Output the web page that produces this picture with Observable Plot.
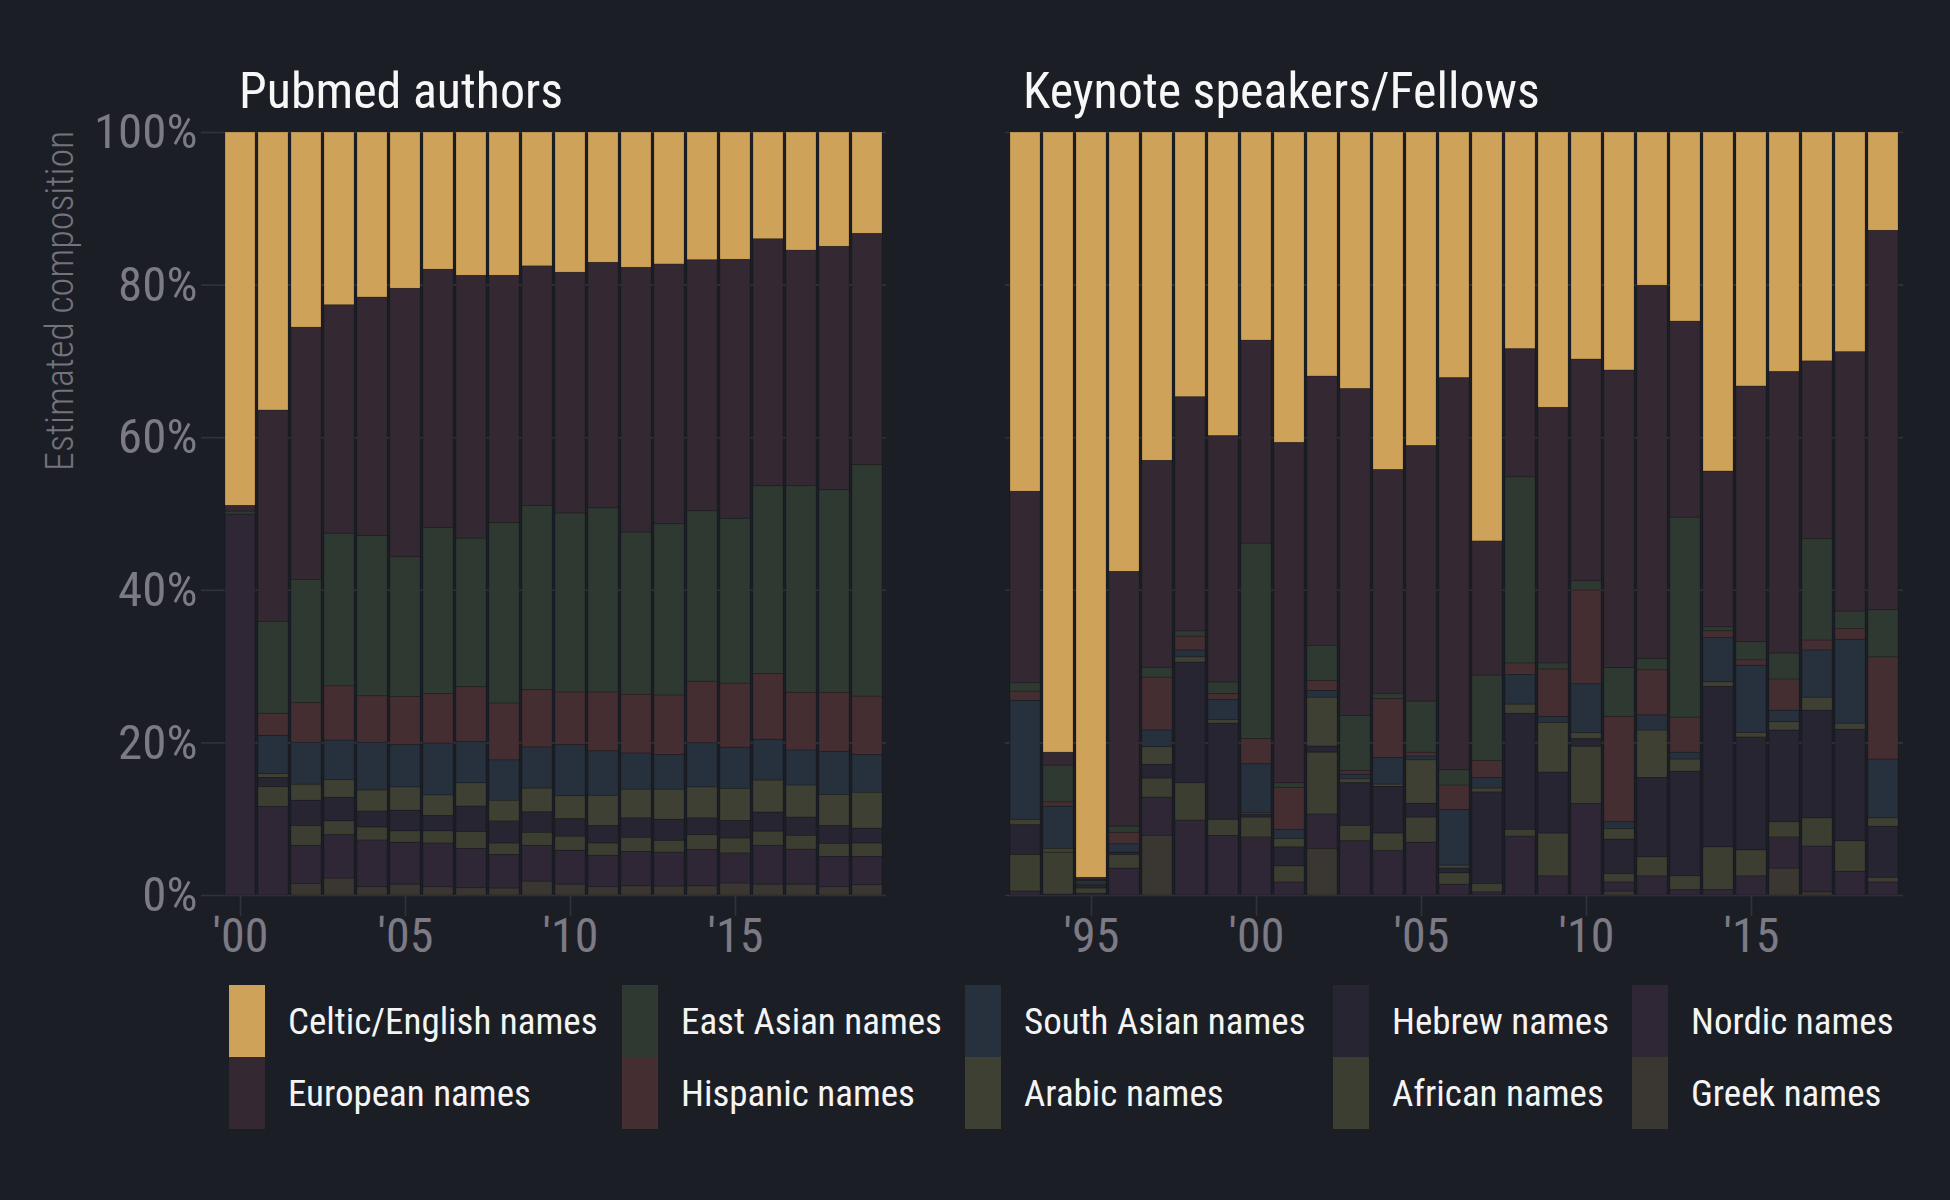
<!DOCTYPE html>
<html><head><meta charset="utf-8">
<script src="https://cdn.jsdelivr.net/npm/d3@7"></script>
<script src="https://cdn.jsdelivr.net/npm/@observablehq/plot@0.6"></script>
<style>
html,body{margin:0;padding:0;background:#1c1e26;}
#root{position:relative;width:1950px;height:1200px;background:#1c1e26;overflow:hidden;font-family:'Roboto Condensed','Roboto',sans-serif;}
.abs{position:absolute;white-space:nowrap;line-height:1;}
.title{color:#f7f7f7;font-size:50px;}
.lg-text{color:#f4f4f4;font-size:37px;}
.ytitle{color:#74727d;font-size:38px;font-weight:300;text-align:right;transform:rotate(-90deg);transform-origin:0 0;}
</style></head><body><div id="root"></div><script>
// ---------- data ----------
const categories = ["Celtic/English names","European names","East Asian names","Hispanic names","South Asian names","Arabic names","Hebrew names","African names","Nordic names","Greek names"];
const colors = ["#cfa259","#342932","#2e3a31","#452e32","#27303d","#3e4033","#272532","#3b3e31","#2f2736","#3a3632"];

const pubmedYears = [2000,2001,2002,2003,2004,2005,2006,2007,2008,2009,2010,2011,2012,2013,2014,2015,2016,2017,2018,2019];
const pubmedTicks = [2000,2005,2010,2015];
const pubmedCeltic    = [48.95,36.45,25.6,22.65,21.65,20.5,18.0,18.8,18.8,17.55,18.4,17.1,17.75,17.3,16.75,16.7,14.0,15.5,15.0,13.3];
const pubmedEuropean  = [0.75,27.7,33.05,29.95,31.25,35.2,33.85,34.45,32.4,31.4,31.55,32.15,34.7,34.05,32.9,33.95,32.35,30.85,31.9,30.3];
const pubmedEastAsian = [0.4,12.05,16.15,20.0,21.0,18.3,21.75,19.45,23.65,24.15,23.45,24.15,21.25,22.45,22.35,21.6,24.65,27.1,26.55,30.35];
const pubmedHispanic  = [0,2.9,5.2,7.1,6.1,6.3,6.5,7.2,7.45,7.5,6.9,7.7,7.7,7.8,8.05,8.4,8.6,7.55,7.75,7.65];
const pubmedSouthAsian= [0,5.0,5.5,5.2,6.25,5.55,6.8,5.4,5.3,5.4,6.7,5.85,4.75,4.55,5.8,5.4,5.35,4.6,5.65,4.95];
const pubmedArabic    = [0,0.5,2.1,2.3,2.75,3.05,2.7,3.05,2.7,3.1,3.0,3.95,3.75,3.95,4.05,4.2,4.2,4.2,4.05,4.7];
const pubmedHebrew    = [0,1.2,3.3,3.1,2.1,2.7,2.0,3.35,2.9,2.7,2.3,2.3,2.55,2.75,2.2,2.3,2.5,2.4,2.35,1.95];
const pubmedAfrican   = [0,2.6,2.6,1.8,1.7,1.5,1.6,2.2,1.5,1.7,1.85,1.6,1.85,1.55,1.95,1.95,1.85,1.8,1.7,1.75];
const pubmedNordic    = [49.9,11.6,5.0,5.7,6.15,5.5,5.75,5.15,4.4,4.7,4.45,4.15,4.5,4.45,4.75,3.95,5.1,4.6,4.0,3.7];
const pubmedGreek     = [0,0,1.5,2.2,1.05,1.4,1.05,0.95,0.9,1.8,1.4,1.05,1.2,1.15,1.2,1.55,1.4,1.4,1.05,1.35];

const keynoteYears = [1993,1994,1995,1996,1997,1998,1999,2000,2001,2002,2003,2004,2005,2006,2007,2008,2009,2010,2011,2012,2013,2014,2015,2016,2017,2018,2019];
const keynoteTicks = [1995,2000,2005,2010,2015];
const keynoteCeltic    = [47.1,81.3,97.7,57.6,43.0,34.7,39.8,27.3,40.7,32.0,33.6,44.2,41.1,32.2,53.6,28.4,36.1,29.8,31.2,20.1,24.8,44.4,33.3,31.4,30.0,28.8,12.9];
const keynoteEuropean  = [25.1,1.7,0.3,33.4,27.1,30.7,32.3,26.6,44.6,35.3,42.8,29.3,33.5,51.4,17.6,16.8,33.5,29.1,39.0,48.9,25.7,20.4,33.5,36.9,23.3,34.0,49.7];
const keynoteEastAsian = [1.1,4.8,0,0.8,1.3,0.7,1.5,25.6,0.6,4.6,7.2,0.7,6.7,2.0,11.2,24.4,0.8,1.2,6.4,1.5,26.2,0.5,2.4,3.4,13.3,2.3,6.2];
const keynoteHispanic  = [1.2,0.6,0.1,1.5,6.9,1.8,0.8,3.3,5.5,1.3,0.5,7.7,0.5,3.2,2.2,1.5,6.2,12.3,13.8,5.9,4.6,0.9,0.7,4.1,1.3,1.4,13.4];
const keynoteSouthAsian= [15.6,5.5,0.5,1.1,2.2,0.9,2.6,6.4,1.2,0.9,0.6,3.5,0.5,7.3,1.4,3.9,0.8,6.4,0.9,2.0,0.9,5.8,8.8,1.5,6.2,11.0,7.7];
const keynoteArabic    = [0.7,0.5,0.1,0,2.3,0.7,0.5,0.2,1.1,6.4,0.5,0.3,5.7,0.4,0.5,1.2,6.5,0.8,1.4,6.2,1.6,0.6,0.6,1.1,1.7,0.8,1.1];
const keynoteHebrew    = [3.9,0,0.4,0.3,1.8,15.8,12.6,0.4,2.5,0.8,5.6,6.1,1.8,0.6,12.0,15.2,8.0,1.0,4.5,10.4,13.7,21.0,14.8,12.0,14.1,14.6,6.7];
const keynoteAfrican   = [4.8,5.5,0.7,1.8,2.5,4.9,2.1,2.6,2.1,8.1,2.0,2.3,3.3,1.5,1.1,0.9,5.6,7.5,1.1,2.5,1.8,5.6,3.4,2.0,3.7,4.0,0.6];
const keynoteNordic    = [0.5,0.1,0.2,3.5,5.0,9.8,7.8,7.6,1.7,4.5,7.1,5.8,6.9,1.4,0.4,7.7,2.5,12.0,1.2,2.5,0.7,0.7,2.5,4.1,6.0,3.1,1.7];
const keynoteGreek     = [0,0,0,0,7.8,0,0,0,0,6.1,0,0,0,0,0,0,0,0,0.5,0,0,0,0,3.5,0.4,0,0];

const yTicks = [0,0.2,0.4,0.6,0.8,1];
const panelTitles = ["Pubmed authors","Keynote speakers/Fellows"];
const yTitle = "Estimated composition";

// ---------- build ----------
const GRID = "#30333b", TICKTXT = "#7c7a85";
const H = 970, TOP = 132, BOTTOM = 895;
const stackOrder = categories.slice().reverse();
const root = document.getElementById("root");

function rowsFor(years, series) {
  const rows = [];
  categories.forEach((c, i) => series[i].forEach((v, j) => rows.push({year: years[j], cat: c, value: v})));
  return rows;
}

function panel({years, series, ticks, showY, width, marginLeft, marginRight}) {
  const rows = rowsFor(years, series);
  return Plot.plot({
    width, height: H, marginLeft, marginRight, marginTop: TOP, marginBottom: H - BOTTOM,
    style: {background: "transparent", fontFamily: "'Roboto Condensed','Roboto',sans-serif", overflow: "visible"},
    x: {type: "band", domain: years, paddingInner: 0.1, paddingOuter: 0, align: 0.5, label: null},
    y: {domain: [0, 1], label: null, axis: showY ? undefined : null},
    color: {domain: categories, range: colors},
    marks: [
      Plot.ruleY(yTicks, {stroke: GRID, strokeWidth: 1.6}),
      Plot.barY(rows, {x: "year", y: "value", fill: "cat", order: stackOrder, offset: "normalize", stroke: "#000", strokeOpacity: 0.18, strokeWidth: 1}),
      Plot.axisX({ticks, tickFormat: d => "'" + String(d).slice(2), label: null, tickSize: 21, tickPadding: 1, fontSize: 48, fill: TICKTXT, stroke: GRID, strokeWidth: 1.6}),
      showY ? Plot.axisY({ticks: yTicks, tickFormat: d3.format(".0%"), label: null, tickSize: 20, tickPadding: 4, fontSize: 49, fill: TICKTXT, stroke: GRID, strokeWidth: 1.6}) : null
    ]
  });
}

function place(el, left, top) {
  el.style.position = "absolute"; el.style.left = left + "px"; el.style.top = top + "px";
  root.appendChild(el);
  return el;
}

const left = panel({years: pubmedYears, series: [pubmedCeltic,pubmedEuropean,pubmedEastAsian,pubmedHispanic,pubmedSouthAsian,pubmedArabic,pubmedHebrew,pubmedAfrican,pubmedNordic,pubmedGreek], ticks: pubmedTicks, showY: true, width: 900, marginLeft: 221, marginRight: 14});
place(left, 0, 0);
const right = panel({years: keynoteYears, series: [keynoteCeltic,keynoteEuropean,keynoteEastAsian,keynoteHispanic,keynoteSouthAsian,keynoteArabic,keynoteHebrew,keynoteAfrican,keynoteNordic,keynoteGreek], ticks: keynoteTicks, showY: false, width: 928, marginLeft: 15, marginRight: 15});
place(right, 990, 0);

// titles
const TFS = 50;
[[panelTitles[0], 239], [panelTitles[1], 1023]].forEach(([t, x]) => {
  const d = document.createElement("div"); d.className = "abs title"; d.textContent = t;
  place(d, x, 108 - 0.8415 * TFS);
});

// y title
const yt = document.createElement("div"); yt.className = "abs ytitle"; yt.textContent = yTitle;
yt.style.width = "338px";
place(yt, 73 - 0.8415 * 38, 471);

// legend (column-major, 2 rows)
const lgCols = [229, 622, 965, 1333, 1632], lgRowTop = [985, 1057];
categories.forEach((c, i) => {
  const col = Math.floor(i / 2), row = i % 2;
  const sw = document.createElement("div");
  sw.style.width = "36px"; sw.style.height = "72px"; sw.style.background = colors[i];
  place(sw, lgCols[col], lgRowTop[row]);
  const tx = document.createElement("div"); tx.className = "abs lg-text"; tx.textContent = c;
  tx.style.height = "72px"; tx.style.display = "flex"; tx.style.alignItems = "center";
  place(tx, lgCols[col] + 59, lgRowTop[row]);
});
</script></body></html>
